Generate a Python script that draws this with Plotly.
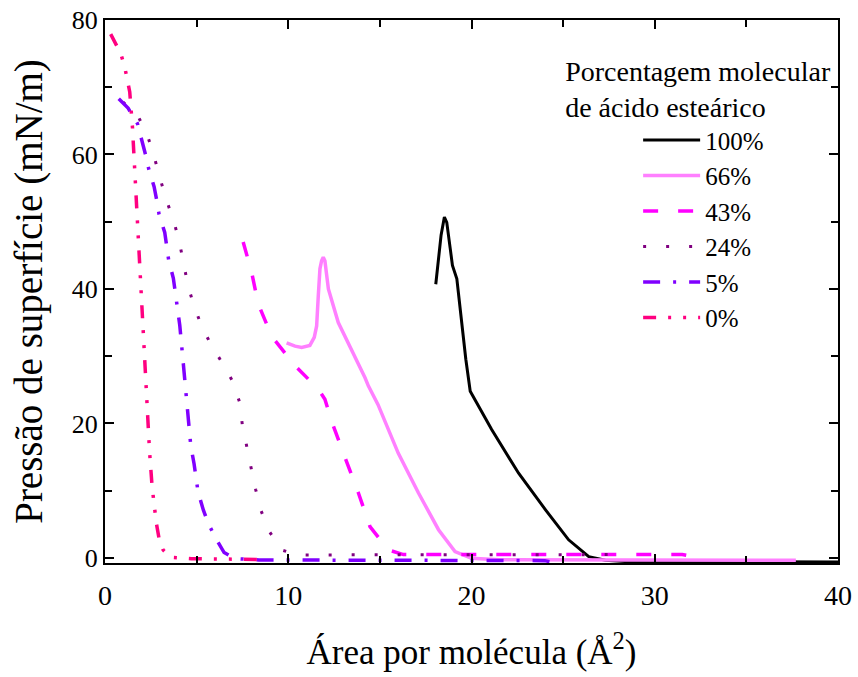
import plotly.graph_objects as go

# Surface pressure isotherms (area per molecule in Å², pressure in mN/m)
area_100 = [18.05, 18.34, 18.52, 18.65, 18.84, 18.96, 19.2, 19.47, 19.69, 19.93, 21.1, 22.57, 24.03, 25.3, 26.4, 27.3, 28.5, 40.0]
pi_100 = [40.7, 48.0, 50.7, 49.9, 46.0, 43.5, 41.5, 34.5, 29.55, 24.8, 19.1, 12.6, 7.2, 2.7, 0.2, -0.35, -0.55, -0.6]

area_66 = [9.91, 10.37, 10.73, 11.18, 11.42, 11.55, 11.64, 11.73, 11.82, 11.91, 12.0, 12.19, 12.73, 13.28, 14.0,
           14.19, 14.37, 14.9, 16.0, 17.1, 18.2, 19.1, 20.0, 21.5, 37.7]
pi_66 = [32.0, 31.5, 31.3, 31.6, 32.8, 34.5, 39.0, 43.0, 44.2, 44.7, 44.2, 40.0, 35.0, 32.0, 28.1,
         26.8, 25.6, 22.8, 15.6, 9.7, 4.2, 0.94, -0.05, -0.25, -0.35]

area_43 = [7.54, 8.0, 8.36, 9.09, 10.37, 11.64, 12.0, 12.37, 13.1, 13.83, 14.46, 15.46, 16.28, 18.0, 31.5, 32.7]
pi_43 = [47.0, 42.5, 37.8, 33.0, 28.6, 25.1, 23.6, 20.3, 14.9, 9.66, 4.67, 1.2, 0.5, 0.5, 0.5, -0.1]

area_24 = [0.98, 1.84, 2.31, 2.68, 2.99, 3.33, 3.75, 4.04, 4.28, 4.51, 4.85, 5.3, 5.83, 6.38, 6.96, 7.34,
           7.49, 7.72, 7.98, 8.23, 8.52, 8.98, 9.62, 10.55, 28.0]
pi_24 = [67.8, 65.5, 62.9, 59.7, 56.6, 53.4, 50.1, 47.2, 44.0, 40.7, 37.5, 34.3, 31.5, 29.1, 26.3, 23.2,
         19.9, 16.6, 13.3, 10.1, 7.0, 3.9, 1.2, 0.45, 0.5]

area_5 = [0.75, 1.26, 1.77, 2.04, 2.22, 2.39, 2.68, 2.83, 2.95, 3.26, 3.48, 3.73, 3.84, 4.08, 4.22, 4.39,
          4.57, 4.68, 4.86, 5.08, 5.37, 5.64, 5.99, 6.5, 7.09, 8.4, 24.0, 24.7]
pi_5 = [68.3, 66.9, 64.6, 61.9, 59.9, 57.8, 55.2, 53.1, 51.1, 48.4, 44.2, 41.6, 39.4, 34.6, 30.5, 25.7,
        20.9, 16.7, 14.0, 9.8, 7.1, 5.1, 3.2, 0.8, -0.1, -0.3, -0.4, -0.8]

area_0 = [0.31, 0.58, 0.86, 1.07, 1.22, 1.35, 1.50, 1.62, 1.72, 1.84, 1.95, 2.08, 2.17, 2.30, 2.43, 2.57,
          2.70, 2.80, 2.95, 3.17, 3.57, 4.10, 4.72, 8.90]
pi_0 = [77.9, 76.4, 75.0, 73.1, 71.3, 69.3, 64.0, 57.8, 52.5, 46.3, 40.0, 32.8, 27.4, 21.2, 15.9, 10.6,
        7.5, 5.2, 2.9, 1.2, 0.1, -0.05, -0.1, -0.25]

series_names = ["100%", "66%", "43%", "24%", "5%", "0%"]
series_x = [area_100, area_66, area_43, area_24, area_5, area_0]
series_y = [pi_100, pi_66, pi_43, pi_24, pi_5, pi_0]
series_colors = ["#000000", "#FF80FF", "#FF00FF", "#800080", "#8000FF", "#FF0080"]
series_dash = ["solid", "solid", "15px,20px", "3px,20px", "17px,13px,3px,13px", "13px,12px,3px,12px,3px,12px"]
series_width = [3, 3.5, 3.5, 3, 3.5, 3.5]

x_ticks = [0, 10, 20, 30, 40]
y_ticks = [0, 20, 40, 60, 80]

FONT = "Liberation Serif"

fig = go.Figure()
for name, xs, ys, col, dash, w in zip(series_names, series_x, series_y, series_colors, series_dash, series_width):
    fig.add_trace(go.Scatter(x=xs, y=ys, mode="lines", name=name,
                             line=dict(color=col, dash=dash, width=w)))

axis_common = dict(
    showline=True, linecolor="black", linewidth=2, mirror="allticks",
    ticks="inside", ticklen=9, tickwidth=2, tickcolor="black",
    showgrid=False, zeroline=False, automargin=False,
)

fig.update_xaxes(range=[0, 40], tickvals=x_ticks,
                 minor=dict(ticks="inside", dtick=5, ticklen=7, tickwidth=2, tickcolor="black"),
                 tickfont=dict(family=FONT, size=28, color="black"),
                 title=dict(text="Área por molécula (Å<sup>2</sup>)",
                            font=dict(family=FONT, size=35, color="black"), standoff=30),
                 ticklabelstandoff=6,
                 **axis_common)
fig.update_yaxes(range=[-0.75, 80], tickvals=y_ticks,
                 minor=dict(ticks="inside", dtick=10, ticklen=7, tickwidth=2, tickcolor="black"),
                 tickfont=dict(family=FONT, size=26, color="black"),
                 title=dict(text="Pressão de superfície (mN/m)",
                            font=dict(family=FONT, size=39, color="black"), standoff=17),
                 ticklabelstandoff=0,
                 **axis_common)

fig.update_layout(
    width=858, height=677,
    margin=dict(l=105, r=20, t=20, b=114),
    paper_bgcolor="white", plot_bgcolor="white",
    font=dict(family=FONT, color="black"),
    showlegend=True,
    legend=dict(
        x=0.625, y=0.955, xanchor="left", yanchor="top",
        bgcolor="rgba(0,0,0,0)", borderwidth=0,
        font=dict(family=FONT, size=25, color="black"),
        title=dict(text="Porcentagem molecular<br>de ácido esteárico",
                   font=dict(family=FONT, size=28, color="black"), side="top"),
        indentation=75,
        itemwidth=57,
        tracegroupgap=0,
    ),
)

fig.write_html("out.html")
